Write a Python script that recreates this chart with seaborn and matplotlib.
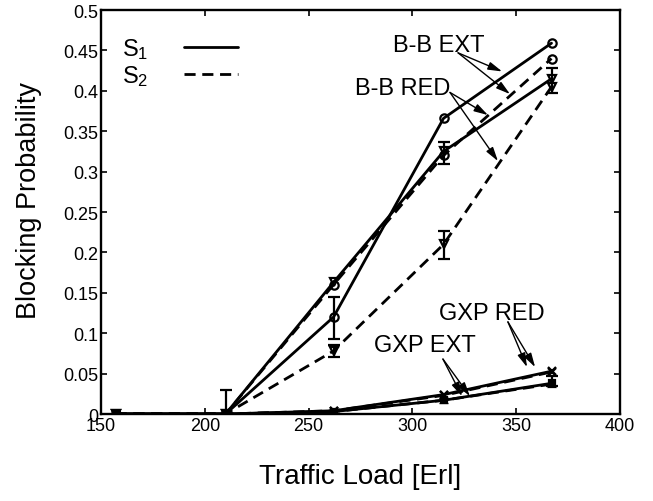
import matplotlib
matplotlib.use("Agg")
import matplotlib.pyplot as plt
import seaborn as sns
import numpy as np
import pandas as pd
from matplotlib.lines import Line2D

# ---------------- data ----------------
x_load = [157, 210, 262, 315, 367]
bb_ext_s1 = [0, 0, 0.12, 0.366, 0.459]
bb_ext_s2 = [0, 0, 0.16, 0.32, 0.44]
bb_red_s1 = [0, 0, 0.163, 0.325, 0.415]
bb_red_s2 = [0, 0, 0.078, 0.21, 0.405]
gxp_red_s1 = [0, 0, 0.004, 0.024, 0.053]
gxp_red_s2 = [0, 0, 0.004, 0.023, 0.052]
gxp_ext_s1 = [0, 0, 0.003, 0.017, 0.038]
gxp_ext_s2 = [0, 0, 0.003, 0.017, 0.037]

err_x = [210, 262, 262, 315, 315, 367, 367]
err_y = [0, 0.12, 0.078, 0.21, 0.325, 0.415, 0.040]
err_lo = [0, 0.093, 0.070, 0.192, 0.310, 0.397, 0.035]
err_hi = [0.03, 0.145, 0.086, 0.227, 0.337, 0.428, 0.047]

x_ticks = [150, 200, 250, 300, 350, 400]
x_ticklabels = ["150", "200", "250", "300", "350", "400"]
y_ticks = [0, 0.05, 0.1, 0.15, 0.2, 0.25, 0.3, 0.35, 0.4, 0.45, 0.5]
y_ticklabels = ["0", "0.05", "0.1", "0.15", "0.2", "0.25", "0.3", "0.35", "0.4", "0.45", "0.5"]

legend_labels = ["S$_1$", "S$_2$"]
# annotations: text, text position, arrow tail, arrow heads
ann_bb_ext = ("B-B EXT", (312.8, 0.457), (322.0, 0.447), [(343.2, 0.424), (347.0, 0.396)])
ann_bb_red = ("B-B RED", (295.5, 0.404), (318.1, 0.398), [(336.4, 0.370), (341.2, 0.313)])
ann_gxp_red = ("GXP RED", (338.3, 0.125), (346.0, 0.114), [(355.2, 0.058), (359.1, 0.058)])
ann_gxp_ext = ("GXP EXT", (306.1, 0.085), (314.7, 0.068), [(323.9, 0.022), (327.7, 0.022)])

# ---------------- style ----------------
sns.set_theme(style="ticks")
plt.rcParams["font.family"] = ["Liberation Sans", "DejaVu Sans"]
plt.rcParams["mathtext.fontset"] = "custom"
plt.rcParams["mathtext.rm"] = "Liberation Sans"
plt.rcParams["mathtext.it"] = "Liberation Sans"
plt.rcParams["text.color"] = "black"
plt.rcParams["axes.labelcolor"] = "black"

fig = plt.figure(figsize=(6.53, 5.02), dpi=100)
ax = fig.add_axes([0.1547, 0.1733, 0.7948, 0.8047])

dash = (0, (4, 2.4))
series = [
    (bb_ext_s1, "-", "o", "none", 6),
    (bb_ext_s2, dash, "o", "none", 6),
    (bb_red_s1, "-", "v", "none", 6),
    (bb_red_s2, dash, "v", "none", 6),
    (gxp_red_s1, "-", "x", "none", 6),
    (gxp_red_s2, dash, "x", "none", 6),
    (gxp_ext_s1, "-", "s", "black", 5),
    (gxp_ext_s2, dash, "^", "none", 5),
]
for vals, ls, mk, fc, ms in series:
    df = pd.DataFrame({"load": x_load, "p": vals})
    sns.lineplot(data=df, x="load", y="p", ax=ax, color="black", linewidth=2.0,
                 linestyle=ls, marker=mk, markersize=ms,
                 markerfacecolor=fc, markeredgecolor="black", markeredgewidth=1.6)

ey = np.array(err_y)
ax.errorbar(err_x, err_y, yerr=[ey - np.array(err_lo), np.array(err_hi) - ey],
            fmt="none", ecolor="black", elinewidth=1.6, capsize=4, capthick=1.6)

ax.set_xlim(150, 400)
ax.set_ylim(0, 0.5)
ax.set_xticks(x_ticks)
ax.set_xticklabels(x_ticklabels)
ax.set_yticks(y_ticks)
ax.set_yticklabels(y_ticklabels)
ax.tick_params(direction="in", top=True, right=True, length=4, width=1.2,
               labelsize=13, colors="black", pad=2)
for s in ax.spines.values():
    s.set_linewidth(1.7)
    s.set_color("black")
ax.set_xlabel("Traffic Load [Erl]", fontsize=20, labelpad=21)
ax.set_ylabel("Blocking Probability", fontsize=19.5)
ax.yaxis.set_label_coords(-0.114, 0.53)

# annotations
for text, tpos, tail, heads in [ann_bb_ext, ann_bb_red, ann_gxp_red, ann_gxp_ext]:
    ax.text(tpos[0], tpos[1], text, ha="center", va="center", fontsize=17)
    for h in heads:
        ax.annotate("", xy=h, xytext=tail,
                    arrowprops=dict(arrowstyle="-|>,head_length=0.7,head_width=0.2",
                                    color="black", lw=1.0, shrinkA=0, shrinkB=0))

handles = [Line2D([], [], color="black", lw=2.0, linestyle="-"),
           Line2D([], [], color="black", lw=2.0, linestyle=dash)]
ax.legend(handles, legend_labels, loc="upper left", bbox_to_anchor=(0.041, 0.935),
          frameon=False, markerfirst=False, fontsize=17, handlelength=2.3,
          handletextpad=1.5, labelspacing=0.1, borderpad=0, borderaxespad=0)

fig.savefig("out.png", dpi=100)
